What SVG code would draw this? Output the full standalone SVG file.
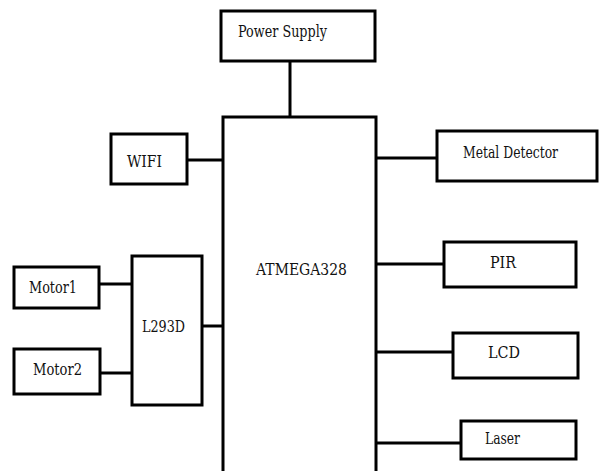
<svg xmlns="http://www.w3.org/2000/svg" width="599" height="471" viewBox="0 0 599 471">
<style>
.box{fill:#fff;stroke:#000;stroke-width:3}
.lbl{font-family:'DejaVu Serif',serif;font-size:16px;fill:#111}
.conn line{stroke:#000;stroke-width:3}
</style>
<rect width="599" height="471" fill="#fff"/>
<g class="conn">
<line x1="290" y1="61" x2="290" y2="117"/>
<line x1="187" y1="160" x2="223" y2="160"/>
<line x1="99" y1="284" x2="132" y2="284"/>
<line x1="100" y1="373" x2="132" y2="373"/>
<line x1="202" y1="326" x2="223" y2="326"/>
<line x1="376" y1="158" x2="437" y2="158"/>
<line x1="376" y1="264" x2="444" y2="264"/>
<line x1="376" y1="352" x2="453" y2="352"/>
<line x1="376" y1="443" x2="461" y2="443"/>
</g>
<g id="power"><rect class="box" x="221" y="11" width="154" height="50"/><text class="lbl" x="238" y="37" textLength="89" lengthAdjust="spacingAndGlyphs">Power Supply</text></g>
<g id="atmega"><rect class="box" x="223" y="117" width="153" height="356"/><text class="lbl" x="256" y="275" textLength="91" lengthAdjust="spacingAndGlyphs">ATMEGA328</text></g>
<g id="wifi"><rect class="box" x="111" y="134" width="76" height="50"/><text class="lbl" x="127" y="167" textLength="35" lengthAdjust="spacingAndGlyphs">WIFI</text></g>
<g id="motor1"><rect class="box" x="14" y="267" width="85" height="41"/><text class="lbl" x="29" y="293" textLength="48" lengthAdjust="spacingAndGlyphs">Motor1</text></g>
<g id="motor2"><rect class="box" x="14" y="349" width="86" height="45"/><text class="lbl" x="33" y="375" textLength="49" lengthAdjust="spacingAndGlyphs">Motor2</text></g>
<g id="l293d"><rect class="box" x="132" y="256" width="70" height="149"/><text class="lbl" x="142" y="332" textLength="43" lengthAdjust="spacingAndGlyphs">L293D</text></g>
<g id="metal"><rect class="box" x="437" y="131" width="160" height="50"/><text class="lbl" x="463" y="158" textLength="95" lengthAdjust="spacingAndGlyphs">Metal Detector</text></g>
<g id="pir"><rect class="box" x="444" y="242" width="132" height="45"/><text class="lbl" x="490" y="268" textLength="26" lengthAdjust="spacingAndGlyphs">PIR</text></g>
<g id="lcd"><rect class="box" x="453" y="333" width="125" height="45"/><text class="lbl" x="488" y="358" textLength="32" lengthAdjust="spacingAndGlyphs">LCD</text></g>
<g id="laser"><rect class="box" x="461" y="421" width="115" height="38"/><text class="lbl" x="485" y="444" textLength="35" lengthAdjust="spacingAndGlyphs">Laser</text></g>
</svg>
